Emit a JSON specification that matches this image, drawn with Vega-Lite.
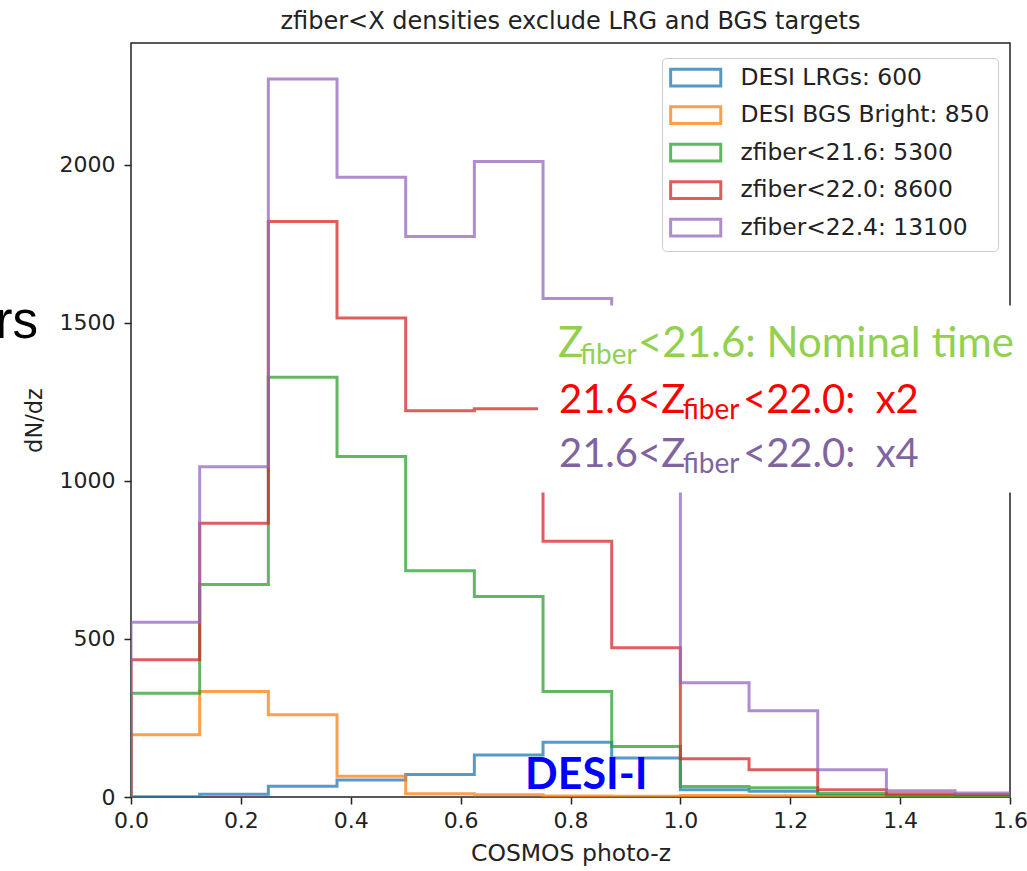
{
  "$schema": "https://vega.github.io/schema/vega-lite/v6.json",
  "width": 879,
  "height": 754,
  "autosize": {"type": "none"},
  "padding": {"left": 131, "top": 43, "right": 17, "bottom": 74},
  "background": "white",
  "config": {"view": {"stroke": "#222", "strokeWidth": 1.5}, "font": "DejaVu Sans"},
  "title": {"text": "zfiber<X densities exclude LRG and BGS targets", "fontSize": 24, "font": "DejaVu Sans", "fontWeight": "normal", "color": "#222", "offset": 9, "frame": "group"},
  "encoding": {
    "x": {"field": "x", "type": "quantitative", "scale": {"domain": [0, 1.6], "nice": false, "zero": false},
      "axis": {"values": [0, 0.2, 0.4, 0.6, 0.8, 1.0, 1.2, 1.4, 1.6], "format": ".1f", "labelFontSize": 22, "labelFont": "DejaVu Sans", "labelColor": "#222", "tickColor": "#222", "tickSize": 7, "tickWidth": 1.5, "domain": false, "grid": false, "labelPadding": 6, "labelFlush": false, "labelOverlap": false, "title": "COSMOS photo-z", "titleFontSize": 23.5, "titleFont": "DejaVu Sans", "titleFontWeight": "normal", "titleColor": "#222", "titlePadding": 10}},
    "y": {"field": "y", "type": "quantitative", "scale": {"domain": [0, 2385], "nice": false},
      "axis": {"values": [0, 500, 1000, 1500, 2000], "format": "d", "labelFontSize": 22, "labelFont": "DejaVu Sans", "labelColor": "#222", "tickColor": "#222", "tickSize": 7, "tickWidth": 1.5, "domain": false, "grid": false, "labelPadding": 9, "title": "dN/dz", "titleFontSize": 22.5, "titleFont": "DejaVu Sans", "titleFontWeight": "normal", "titleColor": "#222", "titlePadding": 13}}
  },
  "layer": [
    {
      "data": {"values": [
        {"s": "DESI LRGs: 600", "i": 0, "x": 0, "y": 0},
        {"s": "DESI LRGs: 600", "i": 1, "x": 0, "y": 1},
        {"s": "DESI LRGs: 600", "i": 2, "x": 0.125, "y": 9},
        {"s": "DESI LRGs: 600", "i": 3, "x": 0.25, "y": 34},
        {"s": "DESI LRGs: 600", "i": 4, "x": 0.375, "y": 54},
        {"s": "DESI LRGs: 600", "i": 5, "x": 0.5, "y": 71},
        {"s": "DESI LRGs: 600", "i": 6, "x": 0.625, "y": 133},
        {"s": "DESI LRGs: 600", "i": 7, "x": 0.75, "y": 173},
        {"s": "DESI LRGs: 600", "i": 8, "x": 0.875, "y": 123},
        {"s": "DESI LRGs: 600", "i": 9, "x": 1.0, "y": 23},
        {"s": "DESI LRGs: 600", "i": 10, "x": 1.125, "y": 18},
        {"s": "DESI LRGs: 600", "i": 11, "x": 1.25, "y": 5},
        {"s": "DESI LRGs: 600", "i": 12, "x": 1.375, "y": 2},
        {"s": "DESI LRGs: 600", "i": 13, "x": 1.5, "y": 1},
        {"s": "DESI LRGs: 600", "i": 14, "x": 1.625, "y": 1},
        {"s": "DESI BGS Bright: 850", "i": 0, "x": 0, "y": 0},
        {"s": "DESI BGS Bright: 850", "i": 1, "x": 0, "y": 197},
        {"s": "DESI BGS Bright: 850", "i": 2, "x": 0.125, "y": 334},
        {"s": "DESI BGS Bright: 850", "i": 3, "x": 0.25, "y": 260},
        {"s": "DESI BGS Bright: 850", "i": 4, "x": 0.375, "y": 66},
        {"s": "DESI BGS Bright: 850", "i": 5, "x": 0.5, "y": 10},
        {"s": "DESI BGS Bright: 850", "i": 6, "x": 0.625, "y": 7},
        {"s": "DESI BGS Bright: 850", "i": 7, "x": 0.75, "y": 3},
        {"s": "DESI BGS Bright: 850", "i": 8, "x": 0.875, "y": 2},
        {"s": "DESI BGS Bright: 850", "i": 9, "x": 1.0, "y": 5},
        {"s": "DESI BGS Bright: 850", "i": 10, "x": 1.125, "y": 4},
        {"s": "DESI BGS Bright: 850", "i": 11, "x": 1.25, "y": 2},
        {"s": "DESI BGS Bright: 850", "i": 12, "x": 1.375, "y": 0},
        {"s": "DESI BGS Bright: 850", "i": 13, "x": 1.5, "y": 0},
        {"s": "DESI BGS Bright: 850", "i": 14, "x": 1.625, "y": 0},
        {"s": "zfiber<21.6: 5300", "i": 0, "x": 0, "y": 0},
        {"s": "zfiber<21.6: 5300", "i": 1, "x": 0, "y": 328},
        {"s": "zfiber<21.6: 5300", "i": 2, "x": 0.125, "y": 672},
        {"s": "zfiber<21.6: 5300", "i": 3, "x": 0.25, "y": 1328},
        {"s": "zfiber<21.6: 5300", "i": 4, "x": 0.375, "y": 1077},
        {"s": "zfiber<21.6: 5300", "i": 5, "x": 0.5, "y": 716},
        {"s": "zfiber<21.6: 5300", "i": 6, "x": 0.625, "y": 634},
        {"s": "zfiber<21.6: 5300", "i": 7, "x": 0.75, "y": 334},
        {"s": "zfiber<21.6: 5300", "i": 8, "x": 0.875, "y": 160},
        {"s": "zfiber<21.6: 5300", "i": 9, "x": 1.0, "y": 33},
        {"s": "zfiber<21.6: 5300", "i": 10, "x": 1.125, "y": 29},
        {"s": "zfiber<21.6: 5300", "i": 11, "x": 1.25, "y": 11},
        {"s": "zfiber<21.6: 5300", "i": 12, "x": 1.375, "y": 5},
        {"s": "zfiber<21.6: 5300", "i": 13, "x": 1.5, "y": 3},
        {"s": "zfiber<21.6: 5300", "i": 14, "x": 1.625, "y": 3},
        {"s": "zfiber<22.0: 8600", "i": 0, "x": 0, "y": 0},
        {"s": "zfiber<22.0: 8600", "i": 1, "x": 0, "y": 434},
        {"s": "zfiber<22.0: 8600", "i": 2, "x": 0.125, "y": 866},
        {"s": "zfiber<22.0: 8600", "i": 3, "x": 0.25, "y": 1820},
        {"s": "zfiber<22.0: 8600", "i": 4, "x": 0.375, "y": 1515},
        {"s": "zfiber<22.0: 8600", "i": 5, "x": 0.5, "y": 1222},
        {"s": "zfiber<22.0: 8600", "i": 6, "x": 0.625, "y": 1228},
        {"s": "zfiber<22.0: 8600", "i": 7, "x": 0.75, "y": 809},
        {"s": "zfiber<22.0: 8600", "i": 8, "x": 0.875, "y": 472},
        {"s": "zfiber<22.0: 8600", "i": 9, "x": 1.0, "y": 121},
        {"s": "zfiber<22.0: 8600", "i": 10, "x": 1.125, "y": 86},
        {"s": "zfiber<22.0: 8600", "i": 11, "x": 1.25, "y": 23},
        {"s": "zfiber<22.0: 8600", "i": 12, "x": 1.375, "y": 10},
        {"s": "zfiber<22.0: 8600", "i": 13, "x": 1.5, "y": 8},
        {"s": "zfiber<22.0: 8600", "i": 14, "x": 1.625, "y": 8},
        {"s": "zfiber<22.4: 13100", "i": 0, "x": 0, "y": 0},
        {"s": "zfiber<22.4: 13100", "i": 1, "x": 0, "y": 553},
        {"s": "zfiber<22.4: 13100", "i": 2, "x": 0.125, "y": 1045},
        {"s": "zfiber<22.4: 13100", "i": 3, "x": 0.25, "y": 2271},
        {"s": "zfiber<22.4: 13100", "i": 4, "x": 0.375, "y": 1960},
        {"s": "zfiber<22.4: 13100", "i": 5, "x": 0.5, "y": 1773},
        {"s": "zfiber<22.4: 13100", "i": 6, "x": 0.625, "y": 2010},
        {"s": "zfiber<22.4: 13100", "i": 7, "x": 0.75, "y": 1577},
        {"s": "zfiber<22.4: 13100", "i": 8, "x": 0.875, "y": 1200},
        {"s": "zfiber<22.4: 13100", "i": 9, "x": 1.0, "y": 361},
        {"s": "zfiber<22.4: 13100", "i": 10, "x": 1.125, "y": 273},
        {"s": "zfiber<22.4: 13100", "i": 11, "x": 1.25, "y": 86},
        {"s": "zfiber<22.4: 13100", "i": 12, "x": 1.375, "y": 20},
        {"s": "zfiber<22.4: 13100", "i": 13, "x": 1.5, "y": 13},
        {"s": "zfiber<22.4: 13100", "i": 14, "x": 1.625, "y": 13}
      ]},
      "mark": {"type": "line", "interpolate": "step-after", "strokeWidth": 3, "opacity": 0.75, "clip": true},
      "encoding": {
        "color": {"field": "s", "type": "nominal",
          "scale": {"domain": ["DESI LRGs: 600", "DESI BGS Bright: 850", "zfiber<21.6: 5300", "zfiber<22.0: 8600", "zfiber<22.4: 13100"], "range": ["#1f77b4", "#ff7f0e", "#2ca02c", "#d62728", "#9467bd"]},
          "legend": {"title": null, "orient": "none", "legendX": 531, "legendY": 15, "symbolType": "M-3,-1H3V1H-3Z", "symbolSize": 279, "symbolStrokeWidth": 3, "symbolFillColor": "transparent", "symbolOpacity": 0.75, "symbolOffset": 14, "labelFontSize": 23.4, "labelFont": "DejaVu Sans", "labelColor": "#222", "labelOffset": 33, "labelLimit": 400, "rowPadding": 7.5, "padding": 8, "strokeColor": "#cccccc", "fillColor": "rgba(255,255,255,0.8)", "cornerRadius": 4}},
        "order": {"field": "i", "type": "quantitative"}
      }
    },
    {
      "data": {"values": [{"x": 0.7408, "x2": 1.65, "y": 963, "y2": 1555}]},
      "mark": {"type": "rect", "fill": "white"},
      "encoding": {"x2": {"field": "x2"}, "y2": {"field": "y2"}}
    },
    {
      "data": {"values": [{"x": 0.7772, "y": 1391.8, "t": "Z"}, {"x": 0.9228, "y": 1391.8, "t": "<21.6: Nominal time"}]},
      "mark": {"type": "text", "align": "left", "baseline": "alphabetic", "font": "Lato", "fontSize": 42, "fill": "#92D050"},
      "encoding": {"text": {"field": "t"}}
    },
    {
      "data": {"values": [{"x": 0.8173, "y": 1371, "t": "fiber"}]},
      "mark": {"type": "text", "align": "left", "baseline": "alphabetic", "font": "Lato", "fontSize": 28, "fill": "#92D050"},
      "encoding": {"text": {"field": "t"}}
    },
    {
      "data": {"values": [{"x": 0.779, "y": 1214.7, "t": "21.6<Z"}, {"x": 1.1139, "y": 1214.7, "t": "<22.0: \u00a0x2"}]},
      "mark": {"type": "text", "align": "left", "baseline": "alphabetic", "font": "Lato", "fontSize": 40, "fill": "#FF0000"},
      "encoding": {"text": {"field": "t"}}
    },
    {
      "data": {"values": [{"x": 1.0044, "y": 1197, "t": "fiber"}]},
      "mark": {"type": "text", "align": "left", "baseline": "alphabetic", "font": "Lato", "fontSize": 28, "fill": "#FF0000"},
      "encoding": {"text": {"field": "t"}}
    },
    {
      "data": {"values": [{"x": 0.779, "y": 1043.8, "t": "21.6<Z"}, {"x": 1.1139, "y": 1043.8, "t": "<22.0: \u00a0x4"}]},
      "mark": {"type": "text", "align": "left", "baseline": "alphabetic", "font": "Lato", "fontSize": 40, "fill": "#8064A2"},
      "encoding": {"text": {"field": "t"}}
    },
    {
      "data": {"values": [{"x": 1.0044, "y": 1025.8, "t": "fiber"}]},
      "mark": {"type": "text", "align": "left", "baseline": "alphabetic", "font": "Lato", "fontSize": 28, "fill": "#8064A2"},
      "encoding": {"text": {"field": "t"}}
    },
    {
      "data": {"values": [{"x": 0.7172, "y": 25.3, "t": "DESI-I"}]},
      "mark": {"type": "text", "align": "left", "baseline": "alphabetic", "font": "Lato", "fontWeight": "bold", "fontSize": 43, "fill": "#0000FF"},
      "encoding": {"text": {"field": "t"}}
    },
    {
      "data": {"values": [{"x": -0.1693, "y": 1451.9, "t": "rs"}]},
      "mark": {"type": "text", "align": "right", "baseline": "alphabetic", "font": "Liberation Sans", "fontSize": 51, "fill": "#000000"},
      "encoding": {"text": {"field": "t"}}
    }
  ]
}
